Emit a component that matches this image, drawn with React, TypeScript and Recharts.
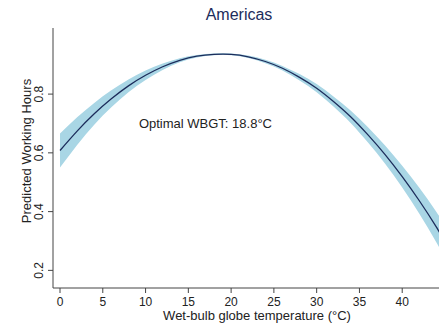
import { ComposedChart, Area, Line, XAxis, YAxis, ReferenceDot, Label } from 'recharts';

// WBGT (°C), fitted working hours, and 95% CI bounds
const wbgt = [0, 2, 4, 6, 8, 10, 12, 14, 16, 18, 20, 22, 24, 26, 28, 30, 32, 34, 36, 38, 40, 42, 44, 46];
const fitted = [0.608, 0.674, 0.733, 0.784, 0.828, 0.864, 0.893, 0.915, 0.929, 0.935, 0.935, 0.927, 0.911, 0.888, 0.857, 0.82, 0.774, 0.722, 0.661, 0.594, 0.519, 0.437, 0.347, 0.249];
const lower = [0.55, 0.627, 0.696, 0.755, 0.806, 0.848, 0.882, 0.908, 0.925, 0.932, 0.932, 0.923, 0.905, 0.88, 0.846, 0.806, 0.757, 0.701, 0.635, 0.563, 0.482, 0.393, 0.295, 0.189];
const upper = [0.666, 0.721, 0.77, 0.813, 0.85, 0.88, 0.904, 0.922, 0.933, 0.938, 0.938, 0.931, 0.917, 0.896, 0.868, 0.834, 0.791, 0.743, 0.687, 0.625, 0.556, 0.481, 0.399, 0.309];

const xTicks = [0, 5, 10, 15, 20, 25, 30, 35, 40];
const yTicks = [0.2, 0.4, 0.6, 0.8];

const FONT = '"Liberation Sans", Arial, sans-serif';
const NAVY = '#1c2c5b';
const BAND = '#a9d6e5';

const data = wbgt.map((x, i) => ({ x, fit: fitted[i], ci: [lower[i], upper[i]] }));

function YTick({ x, y, payload }: any) {
  const bx = x - 2;
  return (
    <text x={bx} y={y} transform={`rotate(-90 ${bx} ${y})`} textAnchor="middle" fontSize={12} fill="#222" fontFamily={FONT}>
      {payload.value.toFixed(1)}
    </text>
  );
}

export default function App() {
  return (
    <div style={{ position: 'absolute', left: 0, top: 0, width: 439, height: 323, overflow: 'hidden', background: '#fff', fontFamily: FONT }}>
      <div style={{ position: 'absolute', left: 0, width: 478, top: 6, textAlign: 'center', fontSize: 16, color: NAVY }}>Americas</div>
      <ComposedChart width={439} height={323} data={data} margin={{ top: 28, right: 0, left: 0, bottom: 0 }}>
        <XAxis
          type="number"
          dataKey="x"
          domain={[-0.82, 44.3]}
          allowDataOverflow
          ticks={xTicks}
          height={35}
          stroke="#444"
          tickSize={5}
          tickMargin={4}
          tick={{ fill: '#222', fontSize: 12, fontFamily: FONT }}
        >
          <Label
            content={() => (
              <text x={257} y={320} textAnchor="middle" fontSize={13} fill="#222" fontFamily={FONT}>
                Wet-bulb globe temperature (°C)
              </text>
            )}
          />
        </XAxis>
        <YAxis
          type="number"
          domain={[0.14, 1.025]}
          allowDataOverflow
          ticks={yTicks}
          width={53}
          stroke="#444"
          tickSize={5}
          tickMargin={3}
          tick={<YTick />}
        >
          <Label
            content={() => (
              <text x={31} y={151} transform="rotate(-90 31 151)" textAnchor="middle" fontSize={13} fill="#222" fontFamily={FONT}>
                Predicted Working Hours
              </text>
            )}
          />
        </YAxis>
        <Area type="natural" dataKey="ci" stroke="none" fill={BAND} fillOpacity={1} isAnimationActive={false} />
        <Line type="natural" dataKey="fit" stroke={NAVY} strokeWidth={1.3} dot={false} isAnimationActive={false} />
        <ReferenceDot
          x={17}
          y={0.7}
          r={0}
          stroke="none"
          label={{ value: 'Optimal WBGT: 18.8°C', position: 'center', fontSize: 13, fill: '#222', fontFamily: FONT }}
        />
      </ComposedChart>
    </div>
  );
}
